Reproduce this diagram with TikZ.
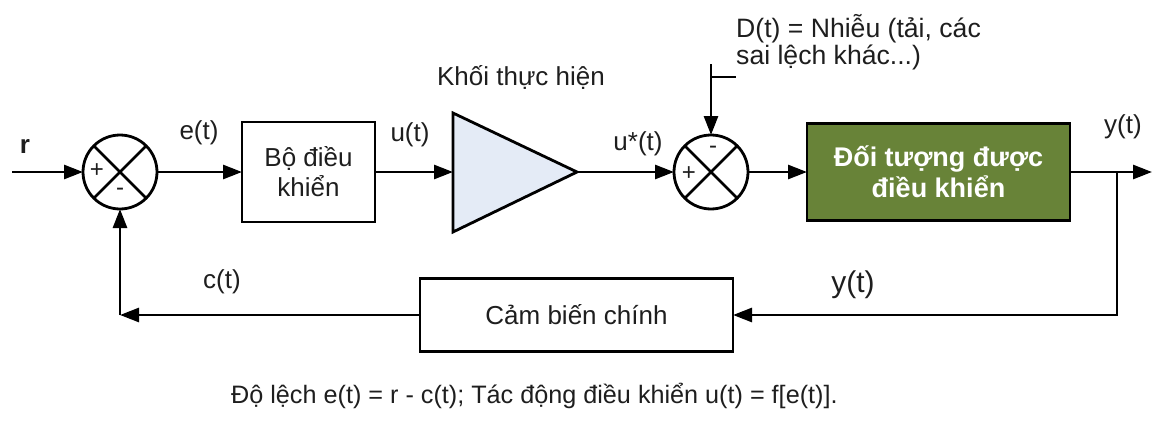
\documentclass[tikz,border=0pt]{standalone}
\usepackage{fontspec}
\setmainfont{Liberation Sans}
\usetikzlibrary{arrows.meta}
\definecolor{plantgreen}{RGB}{104,131,56}
\definecolor{ampblue}{RGB}{228,235,246}
\definecolor{txt}{RGB}{30,30,30}
\tikzset{
  ln/.style={line width=2.8pt, draw=black},
  arr/.style={ln, -{Triangle[length=19pt,width=14pt]}},
  sumnode/.style={circle, ln, minimum size=74pt, inner sep=0pt, outer sep=0pt, fill=white},
  blk/.style={rectangle, ln, inner sep=0pt, outer sep=0pt, align=center, text=txt},
  lbl/.style={text=txt, inner sep=0pt, font=\fontsize{26}{30}\selectfont},
  sgn/.style={text=txt, inner sep=0pt, font=\fontsize{24}{28}\selectfont}
}
\begin{document}
\begin{tikzpicture}[x=1pt,y=-1pt]
\useasboundingbox (0,0) rectangle (1152,423);
% summing junctions
\node[sumnode] (sum1) at (120,172) {};
\draw[ln] (sum1.north west) -- (sum1.south east) (sum1.north east) -- (sum1.south west);
\node[sgn] (p1) at (97,171) {+};
\node[sgn] (m1) at (120,192) {-};
\node[sumnode] (sum2) at (711,172) {};
\draw[ln] (sum2.north west) -- (sum2.south east) (sum2.north east) -- (sum2.south west);
\node[sgn] (p2) at (689,174) {+};
\node[sgn] (m2) at (713,150) {-};
% blocks
\node[blk, minimum width=133pt, minimum height=100pt, font=\fontsize{26}{30}\selectfont] (ctrl) at (308.5,172) {Bộ điều\\khiển};
\coordinate (triL) at (453,172);
\coordinate (triR) at (577,172);
\draw[ln, fill=ampblue, line join=miter] (453,113) -- (triR) -- (453,232) -- cycle;
\node[blk, fill=plantgreen, text=white, minimum width=263pt, minimum height=97pt, font=\fontsize{27}{31}\selectfont\bfseries] (plant) at (938.5,172) {Đối tượng được\\điều khiển};
\node[blk, minimum width=313pt, minimum height=73pt, font=\fontsize{26}{30}\selectfont] (sens) at (576.5,315) {Cảm biến chính};
% coordinates
\coordinate (rin) at (12,172);
\coordinate (out) at (1152,172);
\coordinate (br) at (1117,172);
\coordinate (brd) at (1117,315);
\coordinate (fl) at (120,315);
\coordinate (dtop) at (711,64);
\coordinate (tick) at (736,77);
% connectors
\draw[arr] (rin) -- (sum1.west);
\draw[arr] (sum1.east) -- (ctrl.west);
\draw[arr] (ctrl.east) -- (triL);
\draw[arr] (triR) -- (sum2.west);
\draw[arr] (sum2.east) -- (plant.west);
\draw[arr] (plant.east) -- (out);
\draw[arr] (br) -- (brd) -- (sens.east);
\draw[arr] (sens.west) -- (fl);
\draw[arr] (fl) -- (sum1.south);
\draw[arr] (dtop) -- (sum2.north);
\draw[line width=1.2pt] (dtop |- tick) -- (tick);
% labels
\node[lbl, font=\fontsize{26}{30}\selectfont\bfseries] (lr) at (25,146) {r};
\node[lbl] (le) at (199,133) {e(t)};
\node[lbl] (lu) at (410,135) {u(t)};
\node[lbl] (lk) at (521,77) {Khối thực hiện};
\node[lbl] (lus) at (638,144) {u*(t)};
\node[lbl, anchor=west, align=left, font=\fontsize{26.6}{27.5}\selectfont] (ld) at (736,42) {D(t) = Nhiễu (tải, các\\sai lệch khác...)};
\node[lbl] (ly1) at (1123,127) {y(t)};
\node[lbl, font=\fontsize{30}{34}\selectfont] (ly2) at (853,285) {y(t)};
\node[lbl] (lc) at (222,282) {c(t)};
\node[lbl, anchor=west, font=\fontsize{25.2}{29}\selectfont] (cap) at (231,396) {Độ lệch e(t) = r - c(t); Tác động điều khiển u(t) = f[e(t)].};
\end{tikzpicture}
\end{document}
